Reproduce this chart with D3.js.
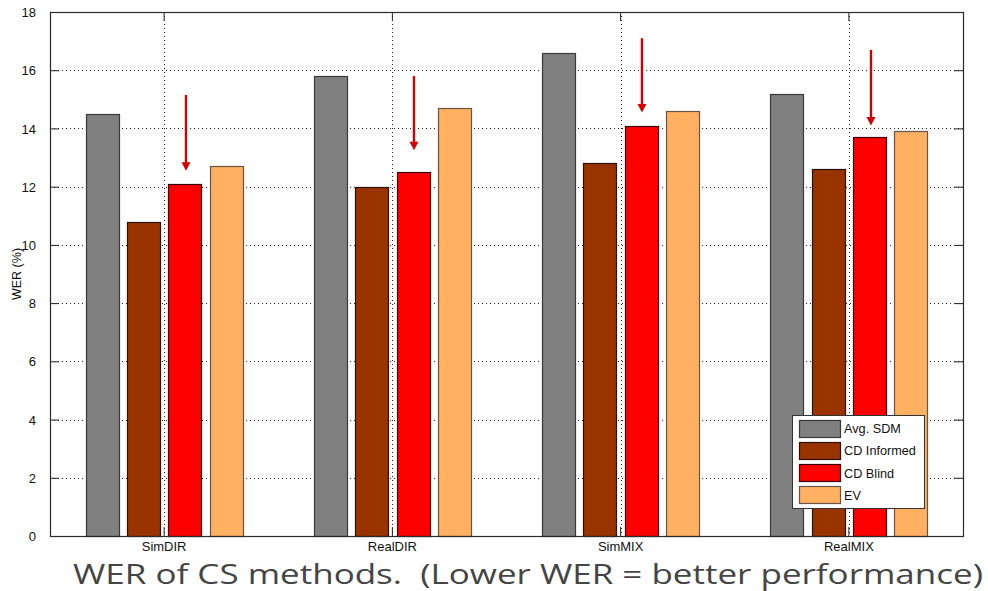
<!DOCTYPE html>
<html>
<head>
<meta charset="utf-8">
<script src="https://cdn.jsdelivr.net/npm/d3@7"></script>
<style>
  html, body { margin: 0; padding: 0; background: #fff; }
  svg { display: block; }
  .lbl { font-family: "Liberation Sans", Arial, Helvetica, sans-serif; fill: #111; }
</style>
</head>
<body>
<svg id="chart" width="988" height="591"></svg>
<script>
// Word error rate per test condition and compressive-sensing method
const categories = ["SimDIR", "RealDIR", "SimMIX", "RealMIX"];
const seriesNames = ["Avg. SDM", "CD Informed", "CD Blind", "EV"];
const avgSDM     = [14.5, 15.8, 16.6, 15.2];
const cdInformed = [10.8, 12.0, 12.8, 12.6];
const cdBlind    = [12.1, 12.5, 14.1, 13.7];
const ev         = [12.7, 14.7, 14.6, 13.9];
const seriesColors = ["#808080", "#993300", "#ff0000", "#ffb061"];
const seriesStrokes = ["#3a3a3a", "#2a1000", "#3a0000", "#6a5444"];
const yTicks = [0, 2, 4, 6, 8, 10, 12, 14, 16, 18];
// Highlight arrows above the "CD Blind" bars: start and tip in WER units
const arrowTop = [15.15, 15.8, 17.1, 16.7];
const arrowTip = [12.55, 13.25, 14.55, 14.1];
const caption = "WER of CS methods.  (Lower WER = better performance)";

const seriesValues = [avgSDM, cdInformed, cdBlind, ev];

const svg = d3.select("#chart");
const plot = { left: 50, right: 963, top: 12, bottom: 536 };

const x = d3.scaleBand().domain(categories).range([plot.left, plot.right]);
const y = d3.scaleLinear().domain([0, 18]).range([plot.bottom, plot.top]);
const half = x.bandwidth() * 0.362;
const xs = d3.scaleBand().domain(seriesNames).range([-half, half])
  .paddingInner(0.2).paddingOuter(0.1);
const cx = c => x(c) + x.bandwidth() / 2;

// dotted grid
const grid = svg.append("g").attr("stroke", "#222").attr("stroke-width", 1)
  .attr("stroke-dasharray", "1,3");
grid.selectAll("line.h").data(yTicks.filter(t => t > 0 && t < 18)).join("line")
  .attr("class", "h")
  .attr("x1", plot.left).attr("x2", plot.right)
  .attr("y1", d => Math.round(y(d)) + 0.5).attr("y2", d => Math.round(y(d)) + 0.5);
grid.selectAll("line.v").data(categories).join("line")
  .attr("class", "v")
  .attr("x1", d => Math.round(cx(d)) + 0.5).attr("x2", d => Math.round(cx(d)) + 0.5)
  .attr("y1", plot.top).attr("y2", plot.bottom);

// grouped bars
const rows = [];
categories.forEach((c, i) => seriesNames.forEach((s, j) => {
  rows.push({ c, s, j, v: seriesValues[j][i] });
}));
svg.append("g").selectAll("rect").data(rows).join("rect")
  .attr("x", d => Math.round(cx(d.c) + xs(d.s)) + 0.5)
  .attr("y", d => Math.round(y(d.v)) + 0.5)
  .attr("width", Math.round(xs.bandwidth()))
  .attr("height", d => Math.round(y(0)) - Math.round(y(d.v)))
  .attr("fill", d => seriesColors[d.j])
  .attr("stroke", d => seriesStrokes[d.j])
  .attr("stroke-width", 1.2);

// axes: left with labels, plus mirrored ticks on the other sides
const tickLen = 9;
const gl = svg.append("g").attr("transform", `translate(${plot.left},0)`)
  .call(d3.axisLeft(y).tickValues(yTicks).tickSize(-tickLen).tickPadding(14));
const gr = svg.append("g").attr("transform", `translate(${plot.right},0)`)
  .call(d3.axisRight(y).tickValues(yTicks).tickSize(-tickLen).tickFormat(""));
const gb = svg.append("g").attr("transform", `translate(0,${plot.bottom})`)
  .call(d3.axisBottom(x).tickSize(-tickLen).tickPadding(6));
const gt = svg.append("g").attr("transform", `translate(0,${plot.top})`)
  .call(d3.axisTop(x).tickSize(-tickLen).tickFormat(""));
[gl, gr, gb, gt].forEach(g => {
  g.select(".domain").remove();
  g.selectAll(".tick line").attr("stroke", "#222");
  g.selectAll("text").attr("class", "lbl").attr("font-size", 13).attr("fill", "#111");
});
gl.selectAll("text").attr("dy", "0.35em");

// frame
svg.append("rect")
  .attr("x", plot.left + 0.5).attr("y", plot.top + 0.5)
  .attr("width", plot.right - plot.left).attr("height", plot.bottom - plot.top)
  .attr("fill", "none").attr("stroke", "#2a2a2a").attr("stroke-width", 1.2);

// y label
svg.append("text").attr("class", "lbl").attr("font-size", 12.5)
  .attr("transform", `translate(21,${(plot.top + plot.bottom) / 2}) rotate(-90)`)
  .attr("text-anchor", "middle").text("WER (%)");

// red arrows
const arrows = svg.append("g");
categories.forEach((c, i) => {
  const ax = Math.round(cx(c) + xs("CD Blind") + xs.bandwidth() / 2) + 1;
  const yTop = y(arrowTop[i]), yTip = y(arrowTip[i]);
  arrows.append("line")
    .attr("x1", ax).attr("x2", ax).attr("y1", yTop).attr("y2", yTip - 6)
    .attr("stroke", "#d40000").attr("stroke-width", 2.4);
  arrows.append("path")
    .attr("d", `M${ax - 4.5},${yTip - 8.5} L${ax + 4.5},${yTip - 8.5} L${ax},${yTip} Z`)
    .attr("fill", "#d40000");
});

// legend
const lg = svg.append("g").attr("transform", "translate(792,415)");
lg.append("rect").attr("x", 0.5).attr("y", 0.5).attr("width", 132).attr("height", 93)
  .attr("fill", "#fff").attr("stroke", "#333").attr("stroke-width", 1);
seriesNames.forEach((s, j) => {
  const ry = 4.5 + j * 22.3;
  lg.append("rect").attr("x", 7.5).attr("y", Math.round(ry) + 0.5)
    .attr("width", 41).attr("height", 17)
    .attr("fill", seriesColors[j]).attr("stroke", seriesStrokes[j]).attr("stroke-width", 1.2);
  lg.append("text").attr("class", "lbl").attr("font-size", 12.7)
    .attr("x", 52).attr("y", ry + 13.5).text(s);
});

// caption
svg.append("text")
  .attr("x", 73).attr("y", 584)
  .attr("font-family", "'Open Sans', Lato, sans-serif")
  .attr("font-size", 27.5).attr("fill", "#454545")
  .attr("textLength", 910).attr("lengthAdjust", "spacingAndGlyphs")
  .style("white-space", "pre")
  .text(caption);
</script>
</body>
</html>
